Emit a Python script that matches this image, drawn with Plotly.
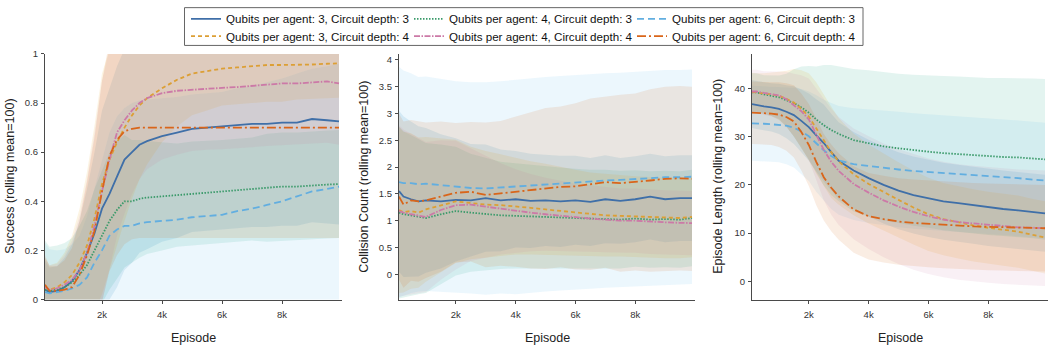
import plotly.graph_objects as go

# ---------------- data ----------------
NAMES = {
    "q3d3": "Qubits per agent: 3, Circuit depth: 3",
    "q3d4": "Qubits per agent: 3, Circuit depth: 4",
    "q4d3": "Qubits per agent: 4, Circuit depth: 3",
    "q4d4": "Qubits per agent: 4, Circuit depth: 4",
    "q6d3": "Qubits per agent: 6, Circuit depth: 3",
    "q6d4": "Qubits per agent: 6, Circuit depth: 4",
}
ORDER = ["q3d3", "q4d3", "q6d3", "q3d4", "q4d4", "q6d4"]

# Panel 1: Success
X_SUCC = [100, 250, 500, 750, 1000, 1250, 1500, 1750, 2000, 2250, 2500, 2750, 3000, 3250,
          3500, 4000, 4500, 5000, 5500, 6000, 6500, 7000, 7500, 8000, 8500, 9000, 9500, 9900]
SUCC_Q3D3 = [0.04, 0.03, 0.035, 0.05, 0.075, 0.12, 0.19, 0.27, 0.37, 0.43, 0.50, 0.57, 0.60, 0.63,
             0.645, 0.665, 0.68, 0.695, 0.70, 0.705, 0.71, 0.715, 0.715, 0.72, 0.72, 0.735, 0.73, 0.725]
SUCC_Q3D4 = [0.05, 0.04, 0.05, 0.07, 0.10, 0.15, 0.22, 0.33, 0.47, 0.57, 0.64, 0.70, 0.75, 0.79,
             0.82, 0.86, 0.895, 0.92, 0.93, 0.94, 0.945, 0.95, 0.955, 0.955, 0.955, 0.957, 0.96, 0.962]
SUCC_Q4D3 = [0.04, 0.035, 0.04, 0.05, 0.07, 0.10, 0.14, 0.20, 0.255, 0.32, 0.365, 0.40, 0.40, 0.41,
             0.415, 0.42, 0.425, 0.433, 0.435, 0.44, 0.445, 0.45, 0.455, 0.46, 0.46, 0.465, 0.468, 0.47]
SUCC_Q4D4 = [0.05, 0.04, 0.045, 0.06, 0.08, 0.12, 0.19, 0.30, 0.44, 0.57, 0.68, 0.73, 0.77, 0.80,
             0.82, 0.84, 0.85, 0.855, 0.86, 0.862, 0.865, 0.87, 0.875, 0.88, 0.88, 0.885, 0.888, 0.88]
SUCC_Q6D3 = [0.03, 0.025, 0.03, 0.035, 0.045, 0.06, 0.09, 0.15, 0.20, 0.26, 0.285, 0.30, 0.30, 0.31,
             0.315, 0.32, 0.325, 0.335, 0.34, 0.345, 0.36, 0.37, 0.385, 0.40, 0.42, 0.44, 0.45, 0.46]
SUCC_Q6D4 = [0.06, 0.035, 0.035, 0.04, 0.05, 0.10, 0.18, 0.28, 0.44, 0.585, 0.65, 0.685, 0.695, 0.70,
             0.70, 0.70, 0.70, 0.70, 0.70, 0.70, 0.70, 0.70, 0.70, 0.70, 0.70, 0.70, 0.70, 0.70]
SUCC_SD_Q3D3 = [0.12, 0.1, 0.1, 0.12, 0.15, 0.2, 0.26, 0.33, 0.4, 0.43, 0.45, 0.45, 0.45, 0.44,
                0.44, 0.43, 0.43, 0.42, 0.42, 0.42, 0.42, 0.42, 0.42, 0.42, 0.42, 0.42, 0.42, 0.42]
SUCC_SD_Q3D4 = [0.12, 0.1, 0.1, 0.12, 0.16, 0.22, 0.3, 0.38, 0.45, 0.45, 0.42, 0.38, 0.34, 0.3,
                0.27, 0.22, 0.19, 0.17, 0.16, 0.15, 0.15, 0.15, 0.15, 0.15, 0.14, 0.14, 0.14, 0.14]
SUCC_SD_Q4D3 = [0.2, 0.18, 0.18, 0.18, 0.18, 0.2, 0.22, 0.25, 0.27, 0.28, 0.28, 0.27, 0.25, 0.24,
                0.23, 0.22, 0.21, 0.21, 0.21, 0.21, 0.21, 0.21, 0.22, 0.22, 0.22, 0.22, 0.22, 0.22]
SUCC_SD_Q4D4 = [0.12, 0.1, 0.1, 0.12, 0.16, 0.22, 0.3, 0.38, 0.45, 0.45, 0.42, 0.38, 0.34, 0.31,
                0.29, 0.27, 0.26, 0.25, 0.25, 0.25, 0.25, 0.25, 0.25, 0.25, 0.25, 0.25, 0.25, 0.25]
SUCC_SD_Q6D3 = [0.2, 0.18, 0.17, 0.17, 0.18, 0.2, 0.25, 0.3, 0.36, 0.42, 0.46, 0.48, 0.5, 0.5,
                0.5, 0.5, 0.5, 0.5, 0.5, 0.5, 0.5, 0.5, 0.5, 0.5, 0.5, 0.5, 0.5, 0.5]
SUCC_SD_Q6D4 = [0.12, 0.1, 0.1, 0.12, 0.16, 0.22, 0.3, 0.38, 0.45, 0.47, 0.47, 0.46, 0.45, 0.45,
                0.45, 0.45, 0.45, 0.45, 0.45, 0.45, 0.45, 0.45, 0.45, 0.45, 0.45, 0.45, 0.45, 0.45]

# Panel 2: Collision count
X_COLL = [100, 250, 500, 750, 1000, 1500, 2000, 2500, 3000, 3500, 4000, 4500, 5000, 5500,
          6000, 6500, 7000, 7500, 8000, 8500, 9000, 9500, 9900]
COLL_Q3D3 = [1.55, 1.45, 1.40, 1.36, 1.38, 1.36, 1.39, 1.38, 1.42, 1.38, 1.40, 1.37, 1.38, 1.36,
             1.38, 1.35, 1.40, 1.37, 1.40, 1.45, 1.40, 1.42, 1.42]
COLL_Q3D4 = [1.20, 1.16, 1.18, 1.15, 1.21, 1.28, 1.36, 1.33, 1.30, 1.29, 1.27, 1.24, 1.21, 1.18,
             1.15, 1.12, 1.10, 1.09, 1.08, 1.06, 1.05, 1.05, 1.07]
COLL_Q4D3 = [1.15, 1.12, 1.10, 1.08, 1.05, 1.12, 1.18, 1.15, 1.12, 1.10, 1.09, 1.08, 1.06, 1.05,
             1.04, 1.03, 1.03, 1.02, 1.04, 1.02, 1.03, 1.02, 1.05]
COLL_Q4D4 = [1.18, 1.15, 1.12, 1.10, 1.07, 1.20, 1.29, 1.30, 1.26, 1.22, 1.18, 1.15, 1.12, 1.09,
             1.06, 1.04, 1.02, 1.00, 1.00, 0.98, 0.97, 0.96, 0.955]
COLL_Q6D3 = [1.72, 1.70, 1.70, 1.68, 1.69, 1.66, 1.63, 1.61, 1.60, 1.62, 1.63, 1.66, 1.68, 1.70,
             1.72, 1.73, 1.75, 1.76, 1.78, 1.79, 1.81, 1.81, 1.82]
COLL_Q6D4 = [1.45, 1.30, 1.38, 1.36, 1.38, 1.45, 1.52, 1.54, 1.48, 1.51, 1.54, 1.56, 1.60, 1.63,
             1.64, 1.68, 1.72, 1.70, 1.72, 1.75, 1.78, 1.79, 1.78]
COLL_SD_Q3D3 = [1.5, 1.5, 1.45, 1.4, 1.35, 1.25, 1.15, 1.05, 1.0, 0.95, 0.9, 0.88, 0.85, 0.85,
                0.83, 0.82, 0.82, 0.8, 0.8, 0.8, 0.8, 0.8, 0.8]
COLL_SD_Q3D4 = [1.55, 1.5, 1.45, 1.4, 1.35, 1.25, 1.15, 1.05, 1.0, 0.95, 0.9, 0.87, 0.85, 0.82,
                0.8, 0.78, 0.77, 0.76, 0.75, 0.75, 0.75, 0.75, 0.75]
COLL_SD_Q4D3 = [1.6, 1.55, 1.5, 1.45, 1.4, 1.3, 1.2, 1.1, 1.05, 1.0, 0.98, 0.96, 0.95, 0.94,
                0.93, 0.92, 0.92, 0.91, 0.9, 0.9, 0.9, 0.9, 0.9]
COLL_SD_Q4D4 = [1.6, 1.55, 1.5, 1.45, 1.4, 1.3, 1.2, 1.05, 0.95, 0.85, 0.78, 0.72, 0.68, 0.65,
                0.63, 0.62, 0.61, 0.6, 0.6, 0.6, 0.6, 0.6, 0.6]
COLL_SD_Q6D3 = [2.15, 2.1, 2.05, 2.0, 2.0, 1.98, 1.97, 1.97, 1.98, 1.98, 2.0, 2.0, 2.0, 2.0,
                2.0, 2.0, 2.0, 2.0, 2.0, 2.0, 2.0, 2.0, 2.0]
COLL_SD_Q6D4 = [1.55, 1.55, 1.5, 1.5, 1.45, 1.4, 1.3, 1.3, 1.35, 1.35, 1.4, 1.45, 1.5, 1.5,
                1.55, 1.6, 1.6, 1.65, 1.65, 1.7, 1.72, 1.72, 1.72]

# Panel 3: Episode length
X_LEN = [100, 250, 500, 750, 1000, 1250, 1500, 1750, 2000, 2250, 2500, 2750, 3000, 3500,
         4000, 4500, 5000, 5500, 6000, 6500, 7000, 7500, 8000, 8500, 9000, 9500, 9900]
LEN_Q3D3 = [36.8, 36.6, 36.3, 36.1, 35.8, 35.2, 34.5, 33.3, 32.0, 30.3, 28.7, 26.8, 25.0, 23.0,
            21.4, 20.0, 18.8, 17.9, 17.2, 16.6, 16.2, 15.8, 15.3, 15.0, 14.7, 14.3, 14.1]
LEN_Q3D4 = [39.3, 39.2, 39.0, 38.8, 38.5, 37.9, 37.1, 35.8, 34.2, 31.8, 29.2, 26.8, 24.9, 22.2,
            20.2, 18.5, 16.9, 15.3, 13.9, 12.9, 12.2, 11.6, 11.1, 10.7, 10.3, 9.6, 9.1]
LEN_Q4D3 = [39.2, 39.2, 38.8, 38.5, 38.2, 37.6, 37.0, 36.1, 35.0, 33.6, 32.4, 31.4, 30.6, 29.3,
            28.6, 28.0, 27.6, 27.2, 26.9, 26.6, 26.4, 26.1, 25.9, 25.8, 25.7, 25.5, 25.3]
LEN_Q4D4 = [39.4, 39.4, 39.1, 38.9, 38.6, 37.8, 36.6, 35.3, 33.6, 30.5, 27.3, 24.8, 22.9, 20.2,
            18.4, 16.8, 15.5, 14.4, 13.5, 12.8, 12.3, 12.0, 11.7, 11.4, 11.2, 11.1, 11.0]
LEN_Q6D3 = [32.8, 32.8, 32.7, 32.6, 32.5, 32.3, 31.9, 31.1, 30.1, 28.6, 27.2, 26.0, 25.1, 24.3,
            23.9, 23.5, 23.2, 22.9, 22.7, 22.4, 22.2, 22.0, 21.8, 21.6, 21.4, 21.1, 20.9]
LEN_Q6D4 = [35.0, 35.0, 34.9, 34.8, 34.6, 34.1, 33.2, 31.0, 28.3, 24.8, 21.6, 19.4, 17.6, 14.9,
            13.5, 12.9, 12.4, 12.1, 11.9, 11.7, 11.5, 11.4, 11.3, 11.2, 11.2, 11.1, 11.0]
LEN_SD_Q3D3 = [5, 5, 5, 5, 5.2, 5.5, 6, 6.5, 7, 7.5, 8, 8, 8, 8, 8, 8, 8, 8, 8, 8, 8, 8, 8, 8, 8, 8, 8]
LEN_SD_Q3D4 = [4, 4, 4.2, 4.5, 5, 5.8, 7, 8, 9, 9.5, 9.5, 9.5, 9, 8.5, 8.2, 8, 7.8, 7.7, 7.6, 7.5,
               7.5, 7.5, 7.5, 7.5, 7.5, 7.5, 7.5]
LEN_SD_Q4D3 = [4, 4, 4, 4.2, 4.5, 5.5, 7, 8.5, 9.7, 11, 12.5, 13.5, 14, 14.8, 15.2, 15.4, 15.5,
               15.7, 15.8, 16, 16.1, 16.2, 16.3, 16.4, 16.5, 16.6, 16.7]
LEN_SD_Q4D4 = [4.5, 4.5, 4.5, 4.7, 5, 5.7, 6.5, 7.5, 8.5, 9.5, 10.5, 11, 11.2, 11.5, 11.7, 11.8,
               11.9, 12, 12, 12, 12, 12, 12, 12, 12, 12, 12]
LEN_SD_Q6D3 = [7.8, 7.8, 7.8, 7.8, 7.8, 8, 8.3, 8.8, 9.3, 10, 10.5, 11, 11.3, 11.6, 11.8, 11.9,
               12, 12, 12, 12, 12, 12, 12, 12, 12, 12, 12]
LEN_SD_Q6D4 = [6.5, 6.5, 6.5, 6.5, 6.7, 7, 7.5, 8, 8.5, 9, 9, 9, 9, 9, 9, 9, 9, 9, 9, 9, 9, 9,
               9, 9, 9, 9, 9]

X_TICKS = [2000, 4000, 6000, 8000]
X_TICK_TEXT = ["2k", "4k", "6k", "8k"]
Y1_TICKS = [0, 0.2, 0.4, 0.6, 0.8, 1]
Y1_TICK_TEXT = ["0", "0.2", "0.4", "0.6", "0.8", "1"]
Y2_TICKS = [0, 0.5, 1, 1.5, 2, 2.5, 3, 3.5, 4]
Y2_TICK_TEXT = ["0", "0.5", "1", "1.5", "2", "2.5", "3", "3.5", "4"]
Y3_TICKS = [0, 10, 20, 30, 40]
Y3_TICK_TEXT = ["0", "10", "20", "30", "40"]

# ---------------- styles ----------------
LINE_COLORS = {"q3d3": "#3f6fa8", "q3d4": "#dc9f35", "q4d3": "#3a9a6a",
               "q4d4": "#cc79a7", "q6d3": "#62aee0", "q6d4": "#d9651a"}
FILL_RGB = {"q3d3": (0, 114, 178), "q3d4": (230, 159, 0), "q4d3": (0, 158, 115),
            "q4d4": (204, 121, 167), "q6d3": (86, 180, 233), "q6d4": (213, 94, 0)}
DASH = {"q3d3": "solid", "q3d4": "4px,3px", "q4d3": "1.5px,1.5px",
        "q4d4": "6px,1.5px,1.5px,1.5px", "q6d3": "7px,4px", "q6d4": "9px,3px,2px,3px"}
LEGEND_ROW = {"q3d3": "legend", "q4d3": "legend", "q6d3": "legend",
              "q3d4": "legend2", "q4d4": "legend2", "q6d4": "legend2"}

PANELS = [
    ("x", "y", X_SUCC,
     {"q3d3": SUCC_Q3D3, "q3d4": SUCC_Q3D4, "q4d3": SUCC_Q4D3, "q4d4": SUCC_Q4D4,
      "q6d3": SUCC_Q6D3, "q6d4": SUCC_Q6D4},
     {"q3d3": SUCC_SD_Q3D3, "q3d4": SUCC_SD_Q3D4, "q4d3": SUCC_SD_Q4D3, "q4d4": SUCC_SD_Q4D4,
      "q6d3": SUCC_SD_Q6D3, "q6d4": SUCC_SD_Q6D4}),
    ("x2", "y2", X_COLL,
     {"q3d3": COLL_Q3D3, "q3d4": COLL_Q3D4, "q4d3": COLL_Q4D3, "q4d4": COLL_Q4D4,
      "q6d3": COLL_Q6D3, "q6d4": COLL_Q6D4},
     {"q3d3": COLL_SD_Q3D3, "q3d4": COLL_SD_Q3D4, "q4d3": COLL_SD_Q4D3, "q4d4": COLL_SD_Q4D4,
      "q6d3": COLL_SD_Q6D3, "q6d4": COLL_SD_Q6D4}),
    ("x3", "y3", X_LEN,
     {"q3d3": LEN_Q3D3, "q3d4": LEN_Q3D4, "q4d3": LEN_Q4D3, "q4d4": LEN_Q4D4,
      "q6d3": LEN_Q6D3, "q6d4": LEN_Q6D4},
     {"q3d3": LEN_SD_Q3D3, "q3d4": LEN_SD_Q3D4, "q4d3": LEN_SD_Q4D3, "q4d4": LEN_SD_Q4D4,
      "q6d3": LEN_SD_Q6D3, "q6d4": LEN_SD_Q6D4}),
]

fig = go.Figure()

# bands first
for xa, ya, xs, means, sds in PANELS:
    for k in ORDER:
        m, s = means[k], sds[k]
        upper = [a + b for a, b in zip(m, s)]
        lower = [a - b for a, b in zip(m, s)]
        r, g, b = FILL_RGB[k]
        fig.add_trace(go.Scatter(
            x=list(xs) + list(xs)[::-1], y=upper + lower[::-1],
            xaxis=xa, yaxis=ya, mode="lines", line=dict(width=0),
            fill="toself", fillcolor=f"rgba({r},{g},{b},0.11)",
            hoverinfo="skip", showlegend=False))

# mean lines
for i, (xa, ya, xs, means, sds) in enumerate(PANELS):
    for k in ORDER:
        fig.add_trace(go.Scatter(
            x=xs, y=means[k], xaxis=xa, yaxis=ya, mode="lines",
            name=NAMES[k], legend=LEGEND_ROW[k], showlegend=(i == 0),
            line=dict(color=LINE_COLORS[k], width=1.8, dash=DASH[k])))

W, H = 1048, 351
top_px, bot_px = 49.5, 303
ydom = [(H - bot_px) / H, (H - top_px) / H]
xdoms = [[45 / W, 342 / W], [399 / W, 695 / W], [752 / W, 1.0]]

axis_common = dict(showline=True, linecolor="#4a4a4a", linewidth=1.2, ticks="outside",
                   ticklen=3, tickcolor="#4a4a4a", tickwidth=1, showgrid=False,
                   zeroline=False, tickfont=dict(family="Arial", size=9.5, color="#333"))

yinfo = [([0, 1], Y1_TICKS, Y1_TICK_TEXT), ([-0.47, 4.11], Y2_TICKS, Y2_TICK_TEXT),
         ([-3.8, 47.2], Y3_TICKS, Y3_TICK_TEXT)]
layout_axes = {}
for i in range(3):
    sx = "" if i == 0 else str(i + 1)
    layout_axes["xaxis" + sx] = dict(axis_common, domain=xdoms[i], range=[100, 10000],
                                     tickvals=X_TICKS, ticktext=X_TICK_TEXT,
                                     anchor="y" + sx, ticklabelstandoff=3)
    rng, tv, tt = yinfo[i]
    layout_axes["yaxis" + sx] = dict(axis_common, domain=ydom, range=rng, tickvals=tv,
                                     ticktext=tt, anchor="x" + sx, ticklabelstandoff=1)
fig.update_layout(**layout_axes)

ytitles = ["Success (rolling mean=100)", "Collision Count (rolling mean=100)",
           "Episode Length (rolling mean=100)"]
ytitle_px = [10, 364, 718]
annotations = []
ymid = (ydom[0] + ydom[1]) / 2
for i in range(3):
    annotations.append(dict(text=ytitles[i], x=ytitle_px[i] / W, y=ymid, xref="paper",
                            yref="paper", showarrow=False, textangle=-90,
                            xanchor="center", yanchor="middle",
                            font=dict(family="Arial", size=12.5, color="#222")))
    annotations.append(dict(text="Episode", x=(xdoms[i][0] + xdoms[i][1]) / 2,
                            y=(H - 343) / H, xref="paper", yref="paper", showarrow=False,
                            xanchor="center", yanchor="middle",
                            font=dict(family="Arial", size=12.5, color="#222")))

legend_common = dict(orientation="h", xanchor="left", yanchor="middle",
                     entrywidth=178, entrywidthmode="pixels", borderwidth=0,
                     bgcolor="rgba(0,0,0,0)", itemwidth=30,
                     font=dict(family="Arial", size=11.6, color="#111"))

fig.update_layout(
    width=W, height=H, autosize=False,
    margin=dict(l=0, r=0, t=0, b=0),
    paper_bgcolor="white", plot_bgcolor="white",
    annotations=annotations,
    legend=dict(legend_common, x=186 / W, y=(H - 13.3) / H),
    legend2=dict(legend_common, x=186 / W, y=(H - 31.2) / H),
    shapes=[dict(type="rect", xref="paper", yref="paper",
                 x0=184.5 / W, x1=863 / W, y0=(H - 40.7) / H, y1=(H - 1.7) / H,
                 line=dict(color="#666", width=1), fillcolor="rgba(0,0,0,0)",
                 layer="above")],
    showlegend=True,
)

fig.write_html("out.html")
